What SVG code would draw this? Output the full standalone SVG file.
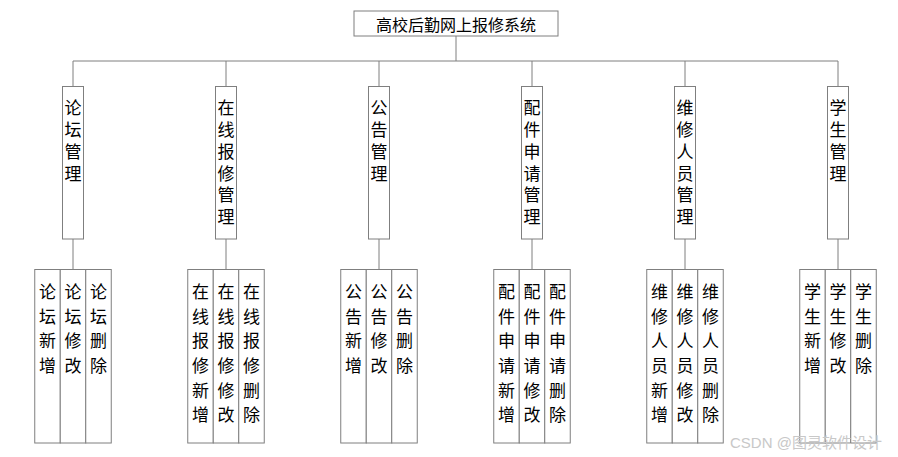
<svg xmlns="http://www.w3.org/2000/svg" width="898" height="457" viewBox="0 0 898 457">
<style>
.box{fill:#fff;stroke:#7f7f7f;stroke-width:1}
.ln{stroke:#7f7f7f;stroke-width:1;fill:none}
text{font-family:"Noto Sans CJK SC","Liberation Sans",sans-serif;fill:#000}
.t{font-size:16px;text-anchor:middle;dominant-baseline:central}
.v{font-size:17px;writing-mode:vertical-rl;text-anchor:start;letter-spacing:4.7px}
.w{font-size:17px;writing-mode:vertical-rl;text-anchor:start;letter-spacing:7.7px}
.wm{font-family:"Liberation Sans","Noto Sans CJK SC",sans-serif;font-size:15px;fill:#c8c8c8;dominant-baseline:central}
</style>
<rect width="898" height="457" fill="#fff"/>
<g id="connectors">
<path class="ln" d="M456 36V61M73 61H838M73 61V86.5M226 61V86.5M379 61V86.5M532 61V86.5M685 61V86.5M838 61V86.5"/>
<path class="ln" d="M73 239V269.5M226 239V269.5M379 239V269.5M532 239V269.5M685 239V269.5M838 239V269.5"/>
</g>
<g id="root"><rect class="box" x="354" y="11" width="204" height="25"/><text class="t" x="456" y="23.5">高校后勤网上报修系统</text></g>

<g id="m1"><rect class="box" x="62.5" y="86.5" width="21" height="152.5"/><text class="v" x="73" y="99.5">论坛管理</text></g>
<g id="m2"><rect class="box" x="215.5" y="86.5" width="21" height="152.5"/><text class="v" x="226" y="99.5">在线报修管理</text></g>
<g id="m3"><rect class="box" x="368.5" y="86.5" width="21" height="152.5"/><text class="v" x="379" y="99.5">公告管理</text></g>
<g id="m4"><rect class="box" x="521.5" y="86.5" width="21" height="152.5"/><text class="v" x="532" y="99.5">配件申请管理</text></g>
<g id="m5"><rect class="box" x="674.5" y="86.5" width="21" height="152.5"/><text class="v" x="685" y="99.5">维修人员管理</text></g>
<g id="m6"><rect class="box" x="827.5" y="86.5" width="21" height="152.5"/><text class="v" x="838" y="99.5">学生管理</text></g>

<g id="l1a"><rect class="box" x="34.75" y="269.5" width="25.5" height="173.5"/><text class="w" x="47.5" y="283">论坛新增</text></g>
<g id="l1b"><rect class="box" x="60.25" y="269.5" width="25.5" height="173.5"/><text class="w" x="73" y="283">论坛修改</text></g>
<g id="l1c"><rect class="box" x="85.75" y="269.5" width="25.5" height="173.5"/><text class="w" x="98.5" y="283">论坛删除</text></g>

<g id="l2a"><rect class="box" x="187.75" y="269.5" width="25.5" height="173.5"/><text class="w" x="200.5" y="283">在线报修新增</text></g>
<g id="l2b"><rect class="box" x="213.25" y="269.5" width="25.5" height="173.5"/><text class="w" x="226" y="283">在线报修修改</text></g>
<g id="l2c"><rect class="box" x="238.75" y="269.5" width="25.5" height="173.5"/><text class="w" x="251.5" y="283">在线报修删除</text></g>

<g id="l3a"><rect class="box" x="340.75" y="269.5" width="25.5" height="173.5"/><text class="w" x="353.5" y="283">公告新增</text></g>
<g id="l3b"><rect class="box" x="366.25" y="269.5" width="25.5" height="173.5"/><text class="w" x="379" y="283">公告修改</text></g>
<g id="l3c"><rect class="box" x="391.75" y="269.5" width="25.5" height="173.5"/><text class="w" x="404.5" y="283">公告删除</text></g>

<g id="l4a"><rect class="box" x="493.75" y="269.5" width="25.5" height="173.5"/><text class="w" x="506.5" y="283">配件申请新增</text></g>
<g id="l4b"><rect class="box" x="519.25" y="269.5" width="25.5" height="173.5"/><text class="w" x="532" y="283">配件申请修改</text></g>
<g id="l4c"><rect class="box" x="544.75" y="269.5" width="25.5" height="173.5"/><text class="w" x="557.5" y="283">配件申请删除</text></g>

<g id="l5a"><rect class="box" x="646.75" y="269.5" width="25.5" height="173.5"/><text class="w" x="659.5" y="283">维修人员新增</text></g>
<g id="l5b"><rect class="box" x="672.25" y="269.5" width="25.5" height="173.5"/><text class="w" x="685" y="283">维修人员修改</text></g>
<g id="l5c"><rect class="box" x="697.75" y="269.5" width="25.5" height="173.5"/><text class="w" x="710.5" y="283">维修人员删除</text></g>

<g id="l6a"><rect class="box" x="799.75" y="269.5" width="25.5" height="173.5"/><text class="w" x="812.5" y="283">学生新增</text></g>
<g id="l6b"><rect class="box" x="825.25" y="269.5" width="25.5" height="173.5"/><text class="w" x="838" y="283">学生修改</text></g>
<g id="l6c"><rect class="box" x="850.75" y="269.5" width="25.5" height="173.5"/><text class="w" x="863.5" y="283">学生删除</text></g>

<text class="wm" x="730" y="442">CSDN @图灵软件设计</text>
</svg>
